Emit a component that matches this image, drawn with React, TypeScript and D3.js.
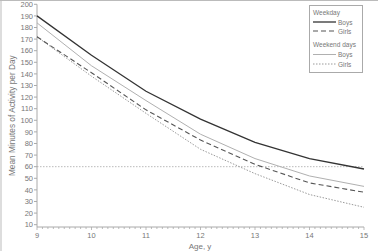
import React from "react";
import * as d3 from "d3";

const ages = [9, 10, 11, 12, 13, 14, 15];
const weekdayBoys = [190, 156, 125, 101, 81, 67, 58];
const weekdayGirls = [172, 141, 109, 83, 62, 46, 38];
const weekendBoys = [184, 147, 117, 88, 67, 52, 43];
const weekendGirls = [172, 138, 106, 75, 54, 36, 25];
const yTicks = [10, 20, 30, 40, 50, 60, 70, 80, 90, 100, 110, 120, 130, 140, 150, 160, 170, 180, 190, 200];
const xTicks = [9, 10, 11, 12, 13, 14, 15];
const refValue = 60;

const W = 378;
const H = 251;
const FONT = "Liberation Sans, Arial, sans-serif";

export default function App() {
  const x = d3.scaleLinear().domain([9, 15]).range([37, 364]);
  const y = d3.scaleLinear().domain([8, 200]).range([227, 4.3]);
  const line = d3
    .line<number>()
    .x((_, i) => x(ages[i]))
    .y((d) => y(d));
  const minor = d3.range(90, 151).map((v) => v / 10);

  const series = [
    { data: weekendGirls, stroke: "#9a9a9a", width: 1, dash: "1.5,1.5" },
    { data: weekendBoys, stroke: "#b0b0b0", width: 1, dash: "" },
    { data: weekdayGirls, stroke: "#555", width: 1.1, dash: "5,3" },
    { data: weekdayBoys, stroke: "#333", width: 1.3, dash: "" },
  ];

  const axisColor = "#aaa";
  const textColor = "#777";

  return (
    <svg
      width={W}
      height={H}
      style={{ position: "absolute", left: 0, top: 0, background: "#fff" }}
      fontFamily={FONT}
    >
      <line x1={0} x2={W} y1={0.5} y2={0.5} stroke="#bbb" />
      <line x1={1} x2={1} y1={0} y2={H} stroke="#bbb" />

      {/* y axis */}
      <line x1={x(9)} x2={x(9)} y1={y(200)} y2={y(8)} stroke={axisColor} />
      {yTicks.map((t) => (
        <g key={t}>
          <line x1={x(9) - 3} x2={x(9)} y1={y(t)} y2={y(t)} stroke={axisColor} />
          <text
            x={x(9) - 4}
            y={y(t)}
            dy="0.35em"
            textAnchor="end"
            fontSize={7.5}
            fill={textColor}
          >
            {t}
          </text>
        </g>
      ))}

      {/* x axis */}
      <line x1={x(9)} x2={x(15)} y1={y(8)} y2={y(8)} stroke={axisColor} />
      {minor.map((t, i) => (
        <line
          key={i}
          x1={x(t)}
          x2={x(t)}
          y1={y(8)}
          y2={y(8) + (i % 10 === 0 ? 3 : 2)}
          stroke={axisColor}
          strokeWidth={0.8}
        />
      ))}
      {xTicks.map((t) => (
        <text
          key={t}
          x={x(t)}
          y={238}
          textAnchor="middle"
          fontSize={7.5}
          fill={textColor}
        >
          {t}
        </text>
      ))}
      <text x={200} y={249} textAnchor="middle" fontSize={8} fill={textColor}>
        Age, y
      </text>
      <text
        transform={`translate(15,${(y(200) + y(8)) / 2}) rotate(-90)`}
        textAnchor="middle"
        fontSize={8.3}
        fill={textColor}
      >
        Mean Minutes of Activity per Day
      </text>

      {/* reference line */}
      <line
        x1={x(9)}
        x2={x(15)}
        y1={y(refValue)}
        y2={y(refValue)}
        stroke="#aaa"
        strokeWidth={0.8}
        strokeDasharray="1.5,1.5"
      />

      {series.map((s, i) => (
        <path
          key={i}
          d={line(s.data) || ""}
          fill="none"
          stroke={s.stroke}
          strokeWidth={s.width}
          strokeDasharray={s.dash || undefined}
        />
      ))}

      {/* legend */}
      <rect x={309.5} y={5.5} width={53} height={67} fill="#fff" stroke="#aaa" />
      <text x={313} y={15} fontSize={6.5} fill={textColor}>Weekday</text>
      <line x1={313} x2={336} y1={22} y2={22} stroke="#333" strokeWidth={1.3} />
      <text x={338} y={24.5} fontSize={6.5} fill={textColor}>Boys</text>
      <line x1={313} x2={336} y1={31} y2={31} stroke="#555" strokeWidth={1.1} strokeDasharray="5,3" />
      <text x={338} y={33.5} fontSize={6.5} fill={textColor}>Girls</text>
      <text x={313} y={47} fontSize={6.5} fill={textColor}>Weekend days</text>
      <line x1={313} x2={336} y1={54.5} y2={54.5} stroke="#b0b0b0" strokeWidth={1} />
      <text x={338} y={57} fontSize={6.5} fill={textColor}>Boys</text>
      <line x1={313} x2={336} y1={64} y2={64} stroke="#9a9a9a" strokeWidth={1} strokeDasharray="1.5,1.5" />
      <text x={338} y={66.5} fontSize={6.5} fill={textColor}>Girls</text>
    </svg>
  );
}
